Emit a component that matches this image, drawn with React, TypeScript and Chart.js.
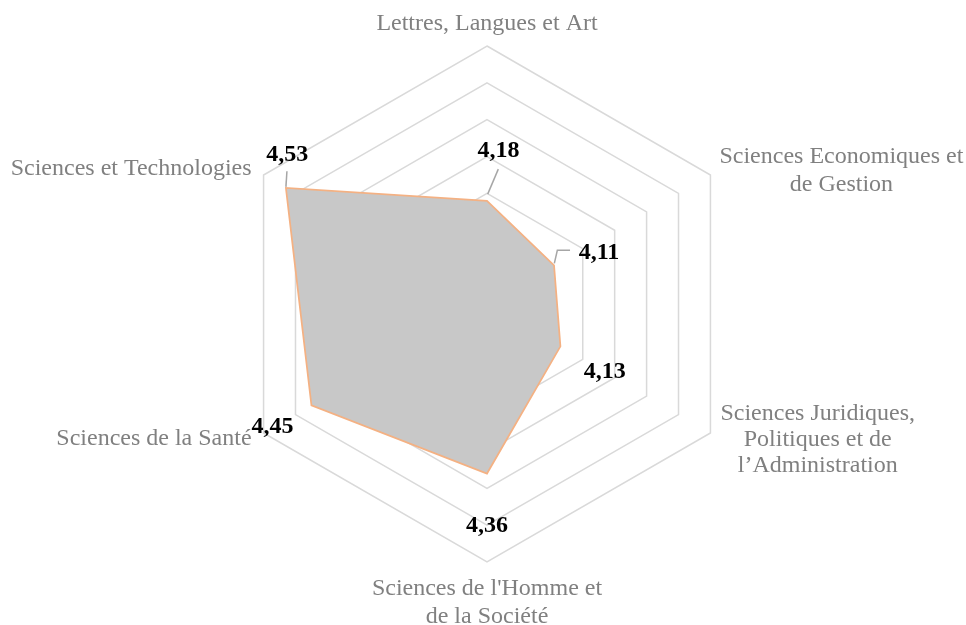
import React, { useEffect, useRef } from "react";
import { Chart, registerables } from "chart.js";

Chart.register(...registerables);

const categories: string[][] = [
  ["Lettres, Langues et Art"],
  ["Sciences Economiques et", "de Gestion"],
  ["Sciences Juridiques,", "Politiques et de", "l\u2019Administration"],
  ["Sciences de l'Homme et", "de la Société"],
  ["Sciences de la Santé"],
  ["Sciences et Technologies"],
];

const scores: number[] = [4.18, 4.11, 4.13, 4.36, 4.45, 4.53];

const scaleMin = 3.9;
const scaleMax = 4.6;
const scaleStep = 0.1;

// label placement styling relative to the axis end (vertex)
const pointLabelStyle = [
  { align: "center", dx: 0, dy: -16.5, lh: 28 },
  { align: "blockLeft", dx: 9, dy: -12.2, lh: 28 },
  { align: "blockLeft", dx: 10, dy: -13.5, lh: 26 },
  { align: "center", dx: 0, dy: 32.5, lh: 28 },
  { align: "right", dx: -12, dy: 11.5, lh: 28 },
  { align: "right", dx: -12, dy: -0.5, lh: 28 },
];

// data label offsets from their point (styling)
const valueLabelStyle = [
  { dx: 11.5, dy: -50.5, leader: [[11.3, -31.7], [0.7, -6.7]] },
  { dx: 45, dy: -13, leader: [[16, -15], [3.3, -15], [0.3, -2]] },
  { dx: 44.3, dy: 25.6, leader: [] as number[][] },
  { dx: 0, dy: 52, leader: [] as number[][] },
  { dx: -39, dy: 21, leader: [] as number[][] },
  { dx: 1.3, dy: -33.5, leader: [[1, -16.6], [0, -1]] },
];

const SERIF = "'Times New Roman', 'Liberation Serif', serif";

const labelsPlugin = {
  id: "customLabels",
  afterDatasetsDraw(chart: any) {
    const ctx = chart.ctx;
    const scale = chart.scales.r;
    // axis labels
    ctx.save();
    ctx.fillStyle = "#808080";
    ctx.font = `24px ${SERIF}`;
    ctx.textBaseline = "alphabetic";
    categories.forEach((lines, i) => {
      const v = scale.getPointPosition(i, scale.drawingArea);
      const st = pointLabelStyle[i];
      const x = v.x + st.dx;
      const y0 = v.y + st.dy;
      if (st.align === "blockLeft") {
        const w = Math.max(...lines.map((l) => ctx.measureText(l).width));
        ctx.textAlign = "center";
        lines.forEach((l, k) => ctx.fillText(l, x + w / 2, y0 + k * st.lh));
      } else {
        ctx.textAlign = st.align;
        lines.forEach((l, k) => ctx.fillText(l, x, y0 + k * st.lh));
      }
    });
    // value labels
    const meta = chart.getDatasetMeta(0);
    ctx.strokeStyle = "#a6a6a6";
    ctx.lineWidth = 1.5;
    ctx.fillStyle = "#000000";
    ctx.font = `bold 24px ${SERIF}`;
    ctx.textAlign = "center";
    ctx.textBaseline = "middle";
    meta.data.forEach((pt: any, i: number) => {
      const st = valueLabelStyle[i];
      if (st.leader.length > 1) {
        ctx.beginPath();
        st.leader.forEach((p, k) => {
          if (k === 0) ctx.moveTo(pt.x + p[0], pt.y + p[1]);
          else ctx.lineTo(pt.x + p[0], pt.y + p[1]);
        });
        ctx.stroke();
      }
      const txt = scores[i].toFixed(2).replace(".", ",");
      ctx.fillText(txt, pt.x + st.dx, pt.y + st.dy);
    });
    ctx.restore();
  },
};

export default function App() {
  const ref = useRef<HTMLCanvasElement>(null);
  useEffect(() => {
    document.body.style.margin = "0";
    const chart = new Chart(ref.current!, {
      type: "radar",
      data: {
        labels: categories.map((c) => c.join(" ")),
        datasets: [
          {
            data: scores,
            backgroundColor: "#c8c8c8",
            borderColor: "#f4b183",
            borderWidth: 1.75,
            pointRadius: 0,
            fill: true,
          },
        ],
      },
      options: {
        responsive: false,
        animation: false,
        layout: { padding: { top: 46, bottom: 63, left: 8, right: 0 } },
        plugins: { legend: { display: false }, tooltip: { enabled: false } },
        scales: {
          r: {
            min: scaleMin,
            max: scaleMax,
            ticks: { display: false, stepSize: scaleStep },
            pointLabels: { display: false },
            angleLines: { display: false },
            grid: { color: "#d9d9d9", lineWidth: 1.5, circular: false },
          },
        },
      },
      plugins: [labelsPlugin],
    });
    return () => chart.destroy();
  }, []);
  return (
    <div style={{ width: 966, height: 625 }}>
      <canvas ref={ref} width={966} height={625} />
    </div>
  );
}
